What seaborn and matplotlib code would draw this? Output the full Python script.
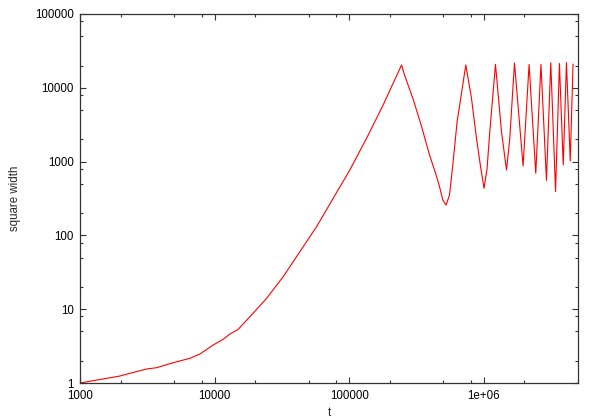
import pandas as pd
import matplotlib
matplotlib.use("Agg")
import matplotlib.pyplot as plt
import matplotlib.ticker as mticker
import seaborn as sns

# values (log-log)
t_values = [
    1000, 1982, 2350, 3128, 3710, 4928, 6555, 7780, 9763, 11580, 12990,
    14970, 18290, 24320, 32310, 42970, 57190, 75950, 101000, 134400,
    178500, 244500, 257300, 296700, 341900, 394700, 441700, 468200,
    495300, 524100, 555400, 587600, 632400, 733800, 808800, 881000,
    948400, 1003000, 1056000, 1106000, 1219000, 1351000, 1472000,
    1557000, 1687000, 1955000, 2166000, 2428000, 2654000, 2915000,
    3138000, 3406000, 3639000, 3885000, 4104000, 4379000, 4594000,
]
width_values = [
    1.00, 1.244, 1.353, 1.548, 1.612, 1.884, 2.161, 2.472, 3.273, 3.909,
    4.613, 5.341, 7.914, 14.05, 27.57, 60.13, 131.2, 318.2, 769.6, 2069,
    5847, 20370, 14910, 7206, 3133, 1229, 658.2, 457.0, 301.7, 258.2,
    352.7, 899.5, 3473, 20370, 7206, 2069, 811.5, 434.6, 811.5, 2542,
    20820, 2542, 769.6, 2069, 21680, 872, 20690, 694, 20820, 558,
    21880, 393, 21340, 899, 22020, 1019, 21010,
]

x_major = [1000, 10000, 100000, 1000000]
x_labels = ["1000", "10000", "100000", "1e+06"]
y_major = [1, 10, 100, 1000, 10000, 100000]
y_labels = ["1", "10", "100", "1000", "10000", "100000"]

df = pd.DataFrame({"t": t_values, "square width": width_values})

sns.set_theme(style="ticks")
plt.rcParams["font.family"] = ["Liberation Sans", "DejaVu Sans"]

fig = plt.figure(figsize=(5.98, 4.19), dpi=100)
ax = fig.add_axes([80 / 598, 36 / 419, 498 / 598, 369 / 419])

sns.lineplot(data=df, x="t", y="square width", color="#ff0000",
             linewidth=0.8, sort=False, estimator=None, ax=ax)

ax.set_xscale("log")
ax.set_yscale("log")
ax.set_xlim(1000, 5e6)
ax.set_ylim(1, 1e5)

ax.set_xticks(x_major)
ax.set_xticklabels(x_labels)
ax.set_yticks(y_major)
ax.set_yticklabels(y_labels)
# gnuplot-style minor ticks at 2, 5 and 8 of each decade
ax.xaxis.set_minor_locator(mticker.LogLocator(base=10, subs=[2, 5, 8]))
ax.yaxis.set_minor_locator(mticker.LogLocator(base=10, subs=[2, 5, 8]))
ax.xaxis.set_minor_formatter(mticker.NullFormatter())
ax.yaxis.set_minor_formatter(mticker.NullFormatter())

ax.tick_params(which="both", direction="in", top=True, right=True,
               color="#333333", width=0.8, labelsize=8.3, labelcolor="black")
ax.tick_params(which="major", length=4.5)
ax.tick_params(which="minor", length=2.3)
ax.tick_params(axis="x", pad=5)
ax.tick_params(axis="y", pad=4.5)

for s in ax.spines.values():
    s.set_color("#333333")
    s.set_linewidth(0.9)

ax.set_xlabel("t", fontsize=8.3, labelpad=3.5)
ax.set_ylabel("square width", fontsize=8.3, labelpad=10)

plt.savefig("out.png", dpi=100)
plt.close()
